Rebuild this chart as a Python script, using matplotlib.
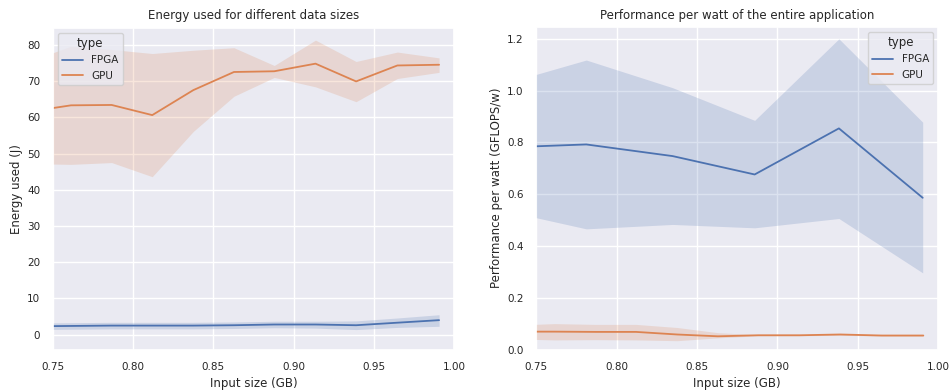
import numpy as np
import matplotlib
matplotlib.use("Agg")
import matplotlib.pyplot as plt
import seaborn as sns

# ==========================
# Data
# ==========================
# energy (left plot)
energy_x = [0.736, 0.7614, 0.7867, 0.812, 0.8376, 0.8629, 0.888, 0.9137, 0.939, 0.9647, 0.9907]
energy_gpu = [61.6, 63.3, 63.4, 60.6, 67.5, 72.5, 72.7, 74.8, 69.9, 74.3, 74.5]
energy_gpu_lo = [47.2, 47.0, 47.5, 43.6, 56.1, 65.8, 71.0, 68.4, 64.3, 70.7, 72.4]
energy_gpu_hi = [75.6, 79.6, 78.7, 77.6, 78.5, 79.2, 74.3, 81.3, 75.4, 78.0, 76.4]
energy_fpga = [2.3, 2.4, 2.5, 2.5, 2.5, 2.6, 2.8, 2.8, 2.6, 3.3, 4.0]
energy_fpga_lo = [1.4, 1.5, 1.6, 1.6, 1.6, 1.7, 1.9, 1.8, 1.4, 2.0, 2.3]
energy_fpga_hi = [3.2, 3.3, 3.4, 3.4, 3.4, 3.5, 3.7, 3.7, 3.8, 4.6, 5.5]

# performance per watt (right plot)
ppw_fpga_x = [0.729, 0.7811, 0.8348, 0.8858, 0.9382, 0.9903]
ppw_fpga = [0.780, 0.792, 0.747, 0.676, 0.854, 0.586]
ppw_fpga_lo = [0.538, 0.466, 0.483, 0.470, 0.506, 0.296]
ppw_fpga_hi = [1.025, 1.118, 1.011, 0.885, 1.200, 0.878]

ppw_gpu_x = [0.736, 0.7614, 0.7867, 0.812, 0.8376, 0.8629, 0.888, 0.9137, 0.939, 0.9647, 0.9907]
ppw_gpu = [0.069, 0.069, 0.068, 0.068, 0.058, 0.051, 0.055, 0.055, 0.058, 0.054, 0.054]
ppw_gpu_lo = [0.041, 0.037, 0.038, 0.037, 0.034, 0.045, 0.053, 0.053, 0.055, 0.052, 0.052]
ppw_gpu_hi = [0.094, 0.100, 0.097, 0.097, 0.085, 0.065, 0.057, 0.057, 0.062, 0.057, 0.056]

sns.set_theme(style="darkgrid")
plt.rcParams['font.family'] = ['DejaVu Sans']

blue, orange = sns.color_palette("deep")[0], sns.color_palette("deep")[1]

fig = plt.figure(figsize=(9.52, 3.92), dpi=100)
ax1 = fig.add_axes([0.0554, 0.1084, 0.4215, 0.8207])
ax2 = fig.add_axes([0.5633, 0.1084, 0.4223, 0.8230])


def band_line(ax, x, y, lo, hi, color, label):
    ax.fill_between(x, lo, hi, color=color, alpha=0.2, linewidth=0)
    ax.plot(x, y, color=color, lw=1.3, label=label)


# Left: energy
band_line(ax1, energy_x, energy_fpga, energy_fpga_lo, energy_fpga_hi, blue, "FPGA")
band_line(ax1, energy_x, energy_gpu, energy_gpu_lo, energy_gpu_hi, orange, "GPU")
ax1.set_xlim(0.75, 1.0)
ax1.set_ylim(-4.1, 84.7)
ax1.set_title("Energy used for different data sizes", fontsize=8.5)
ax1.set_xlabel("Input size (GB)", fontsize=8.5, labelpad=3.5)
ax1.set_ylabel("Energy used (J)", fontsize=8.5, labelpad=3)
ax1.legend(title="type", loc="upper left", fontsize=7.5, title_fontsize=8.5)

# Right: performance per watt
band_line(ax2, ppw_fpga_x, ppw_fpga, ppw_fpga_lo, ppw_fpga_hi, blue, "FPGA")
band_line(ax2, ppw_gpu_x, ppw_gpu, ppw_gpu_lo, ppw_gpu_hi, orange, "GPU")
ax2.set_xlim(0.75, 1.0)
ax2.set_ylim(0, 1.246)
ax2.set_title("Performance per watt of the entire application", fontsize=8.5)
ax2.set_xlabel("Input size (GB)", fontsize=8.5, labelpad=3.5)
ax2.set_ylabel("Performance per watt (GFLOPS/w)", fontsize=8.5, labelpad=3)
ax2.legend(title="type", loc="upper right", fontsize=7.5, title_fontsize=8.5)

for ax in (ax1, ax2):
    ax.tick_params(labelsize=7.5, pad=3)

fig.savefig("out.png", dpi=100)
